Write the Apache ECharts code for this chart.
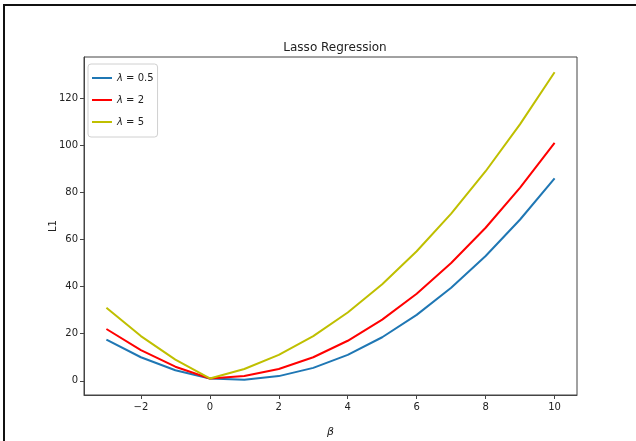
<!DOCTYPE html>
<html>
<head>
<meta charset="utf-8">
<script src="https://cdn.jsdelivr.net/npm/echarts@6/dist/echarts.min.js"></script>
<style>html,body{margin:0;padding:0;background:#fff}#c{width:636px;height:441px}</style>
</head>
<body>
<div id="c"></div>
<script>
var betas = [-3,-2,-1,0,1,2,3,4,5,6,7,8,9,10];
var lossL05 = [17.5,10,4.5,1,0.5,2,5.5,11,18.5,28,39.5,53,68.5,86];
var lossL2 = [22,13,6,1,2,5,10,17,26,37,50,65,82,101];
var lossL5 = [31,19,9,1,5,11,19,29,41,55,71,89,109,131];
var seriesNames = ['λ = 0.5','λ = 2','λ = 5'];
var xTicks = [-2,0,2,4,6,8,10];
var yTicks = [0,20,40,60,80,100,120];

function pairs(ys){return betas.map(function(b,i){return [b,ys[i]];});}
var colors = ['#1f77b4','#ff0000','#bfbf00'];
var font = 'DejaVu Sans';
var chart = echarts.init(document.getElementById('c'), null, {renderer:'canvas'});
chart.setOption({
  animation:false,
  backgroundColor:'#fff',
  title:{text:'Lasso Regression',left:330,textAlign:'center',top:37,
    textStyle:{fontFamily:font,fontSize:12,fontWeight:'normal',color:'#222'}},
  grid:{left:84,right:59,top:57,bottom:46,show:true,borderColor:'#444',borderWidth:1,
    backgroundColor:'transparent',containLabel:false,outerBoundsMode:'none'},
  legend:{orient:'vertical',left:88,top:64,padding:[9,4,10,4],itemGap:12,
    icon:'rect',itemWidth:20,itemHeight:2,
    backgroundColor:'#fff',borderColor:'#d0d0d0',borderWidth:1,borderRadius:3,
    textStyle:{fontFamily:font,fontSize:10,color:'#222',
      rich:{i:{fontFamily:font,fontSize:10,fontStyle:'italic',color:'#222'},
            n:{fontFamily:font,fontSize:10,color:'#222'}}},
    formatter:function(name){return '{i|λ}{n|'+name.slice(1)+'}';},
    data:seriesNames},
  xAxis:{type:'value',min:-3.65,max:10.65,
    name:'β',nameLocation:'middle',nameGap:32,nameMoveOverlap:false,
    nameTextStyle:{fontFamily:font,fontSize:11,fontStyle:'italic',color:'#222'},
    axisLine:{show:true,onZero:false,lineStyle:{color:'#444'}},
    splitLine:{show:false},
    axisTick:{show:true,length:4,inside:false,customValues:xTicks,lineStyle:{color:'#444'}},
    axisLabel:{customValues:xTicks,fontFamily:font,fontSize:10,color:'#222',margin:7,
      formatter:function(v){return v<0?'\u2212'+Math.abs(v):String(v);}}},
  yAxis:{type:'value',min:-6.025,max:137.5,
    name:'L1',nameLocation:'middle',nameGap:26,nameRotate:90,nameMoveOverlap:false,
    nameTextStyle:{fontFamily:font,fontSize:10,color:'#222'},
    axisLine:{show:true,onZero:false,lineStyle:{color:'#444'}},
    splitLine:{show:false},
    axisTick:{show:true,length:4,inside:false,customValues:yTicks,lineStyle:{color:'#444'}},
    axisLabel:{customValues:yTicks,fontFamily:font,fontSize:10,color:'#222',margin:6}},
  series:[
    {name:seriesNames[0],type:'line',data:pairs(lossL05),showSymbol:false,color:colors[0],lineStyle:{width:2}},
    {name:seriesNames[1],type:'line',data:pairs(lossL2),showSymbol:false,color:colors[1],lineStyle:{width:2}},
    {name:seriesNames[2],type:'line',data:pairs(lossL5),showSymbol:false,color:colors[2],lineStyle:{width:2}}
  ],
  graphic:[
    {type:'rect',shape:{x:3,y:4,width:633,height:2},style:{fill:'#111'},silent:true},
    {type:'rect',shape:{x:3,y:4,width:2,height:437},style:{fill:'#111'},silent:true}
  ]
});
</script>
</body>
</html>
